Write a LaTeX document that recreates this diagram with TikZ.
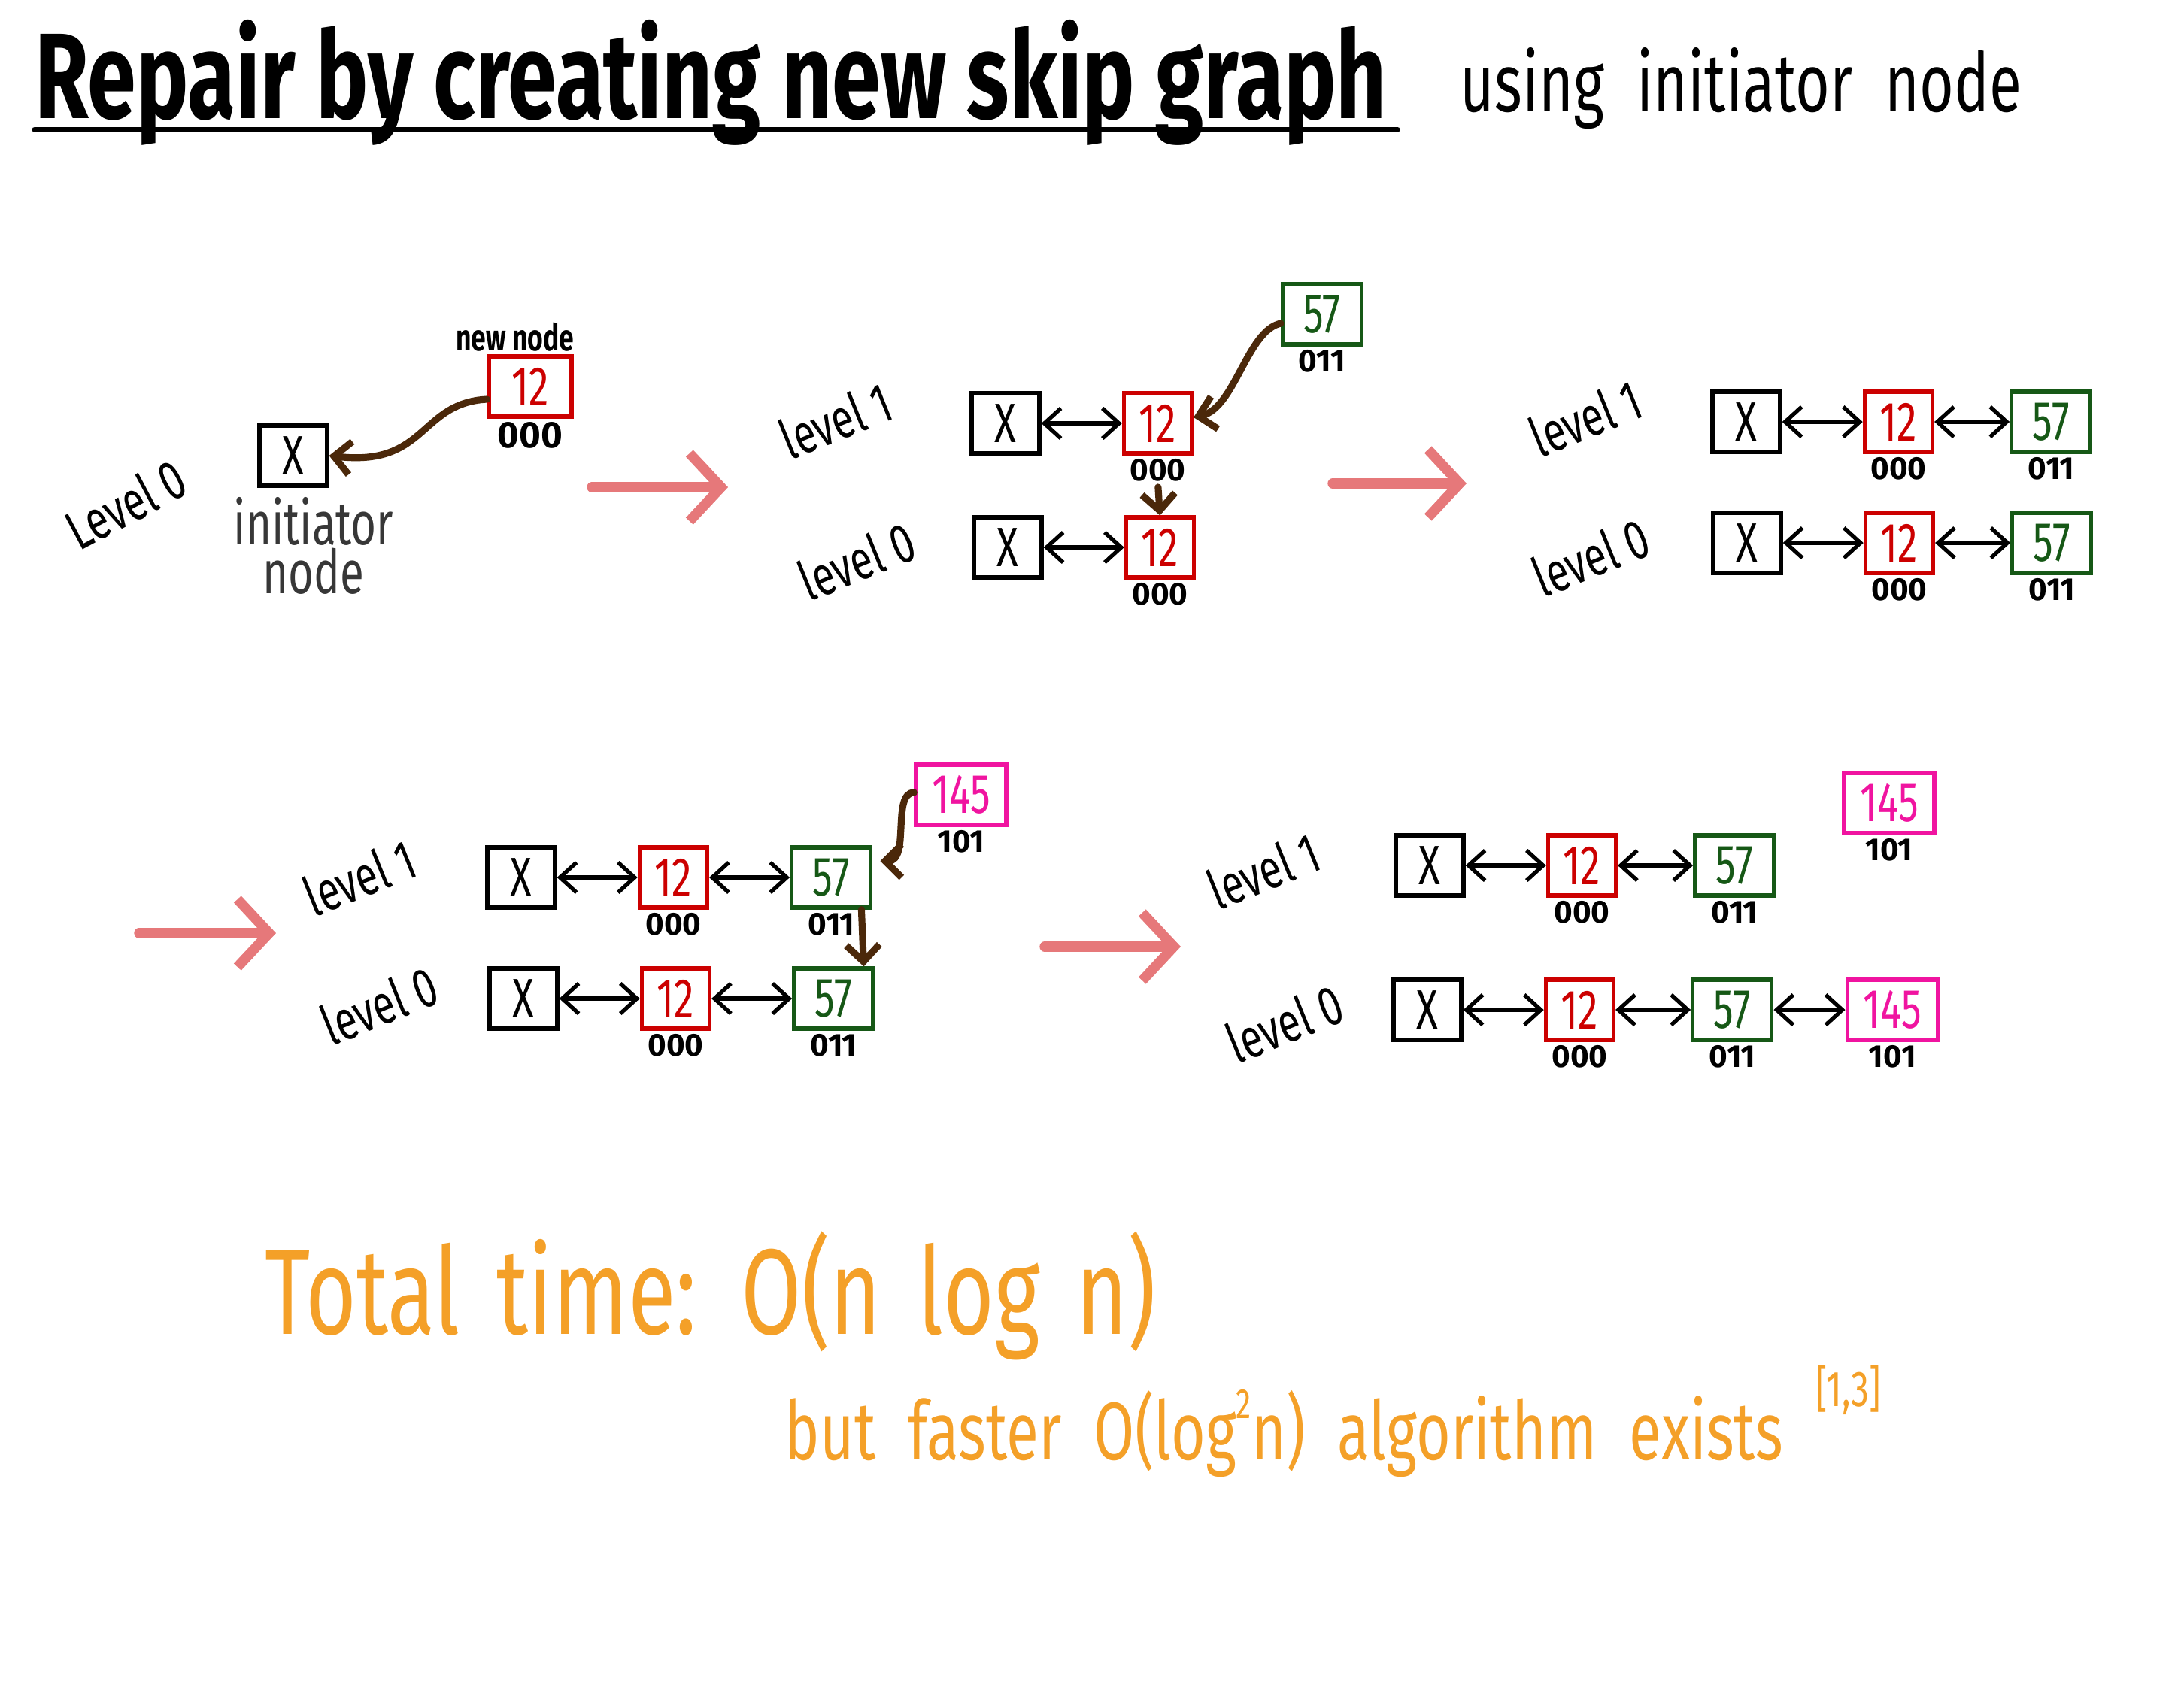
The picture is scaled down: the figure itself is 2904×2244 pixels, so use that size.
\documentclass[tikz,border=0pt]{standalone}
\usepackage{fontspec}
\setmainfont[FakeStretch=0.72]{Fira Sans}
\newfontfamily\bitfont{Fira Sans}
\usetikzlibrary{arrows.meta,positioning}
\definecolor{inkred}{RGB}{204, 0, 0}
\definecolor{inkgreen}{RGB}{22, 88, 22}
\definecolor{inkpink}{RGB}{240, 20, 160}
\definecolor{inkbrown}{RGB}{75, 40, 10}
\definecolor{steparrow}{RGB}{230, 120, 122}
\definecolor{inkorange}{RGB}{244, 160, 40}
\definecolor{inkgray}{RGB}{55, 55, 55}
\newcommand{\wordgap}[1]{\spaceskip=#1\relax}

\begin{document}
\begin{tikzpicture}[
  x=0.01cm, y=-0.01cm,
  >={Straight Barb[length=2.2mm,width=4mm]},
  node distance=1.07cm,
  box/.style={
    draw,
    line width=1.5pt,
    minimum width=0.9cm,
    minimum height=0.8cm,
    inner sep=1pt,
    font=\fontsize{21}{21}\selectfont
  },
  xbox/.style={box, draw=black},
  redbox/.style={box, draw=inkred, text=inkred},
  greenbox/.style={box, draw=inkgreen, text=inkgreen, minimum width=1.05cm},
  pinkbox/.style={box, draw=inkpink, text=inkpink, minimum width=1.2cm},
  bits/.style={below=0.04cm of #1, inner sep=0pt, font=\bitfont\bfseries\fontsize{12}{12}\selectfont},
  lvl/.style={rotate=22, font=\fontsize{21}{21}\selectfont},
  link/.style={<->, line width=1.5pt},
  insarrow/.style={draw=inkbrown, line width=2.6pt, line cap=round, -{Straight Barb[length=2.2mm,width=4.4mm]}},
  stagearrow/.style={draw=steparrow, line width=3.8pt, line cap=round, -{Straight Barb[length=4.2mm,width=9mm]}}
]
  \path[use as bounding box, fill=white] (0,0) rectangle (2904,2244);

  % Title
  \node[anchor=base west, inner sep=0pt, font=\bfseries\fontsize{46}{46}\selectfont] (title) at (46,157) {Repair by creating new skip graph};
  \coordinate (ulleft) at (46,172);
  \coordinate (ulright) at (1858,172);
  \draw[line width=2pt, line cap=round] (ulleft) -- (ulright);
  \node[anchor=base west, inner sep=0pt, font=\fontsize{31}{31}\selectfont] (subtitle) at (1941,148) {\wordgap{0.4em}using initiator node};

  % Stage 1: initiator and new node
  \node[lvl, rotate=6] (s1lvl) at (167,670) {Level 0};
  \node[xbox] (s1x) at (390,606) {X};
  \node[below=0.12cm of s1x, xshift=0.27cm, align=center, text=inkgray, inner sep=0pt, font=\fontsize{23}{17}\selectfont] (s1init) {initiator\\node};
  \node[redbox, minimum width=1.1cm] (s1a) at (705,514) {12};
  \node[bits=s1a, font=\bitfont\bfseries\fontsize{14}{14}\selectfont] (s1ab) {000};
  \node[above=0.03cm of s1a, xshift=-0.2cm, inner sep=0pt, font=\bfseries\fontsize{14}{14}\selectfont] (s1new) {new node};
  \draw[insarrow] ([yshift=-0.17cm]s1a.west) .. controls +(-90,5) and +(130,15) .. (s1x.east);

  \coordinate (t1a) at (787,648);
  \coordinate (t1b) at (968,648);
  \draw[stagearrow] (t1a) -- (t1b);

  % Stage 2: 12 climbs to level 1, 57 joins
  \node[lvl] (s2lvl1) at (1111,559) {level 1};
  \node[lvl] (s2lvl0) at (1139,746) {level 0};
  \node[xbox] (s2x1) at (1337,563) {X};
  \node[redbox, right=of s2x1] (s2a1) {12};
  \node[bits=s2a1] (s2a1b) {000};
  \node[xbox] (s2x0) at (1340,728) {X};
  \node[redbox, right=of s2x0] (s2a0) {12};
  \node[bits=s2a0] (s2a0b) {000};
  \node[greenbox] (s2c) at (1758,418) {57};
  \node[bits=s2c] (s2cb) {011};
  \draw[link] (s2x1) -- (s2a1);
  \draw[link] (s2x0) -- (s2a0);
  \draw[insarrow] ([yshift=-0.12cm]s2c.west) .. controls +(-45,10) and +(55,-12) .. ([yshift=0.08cm]s2a1.east);
  \draw[insarrow, shorten <=2pt] (s2a1b.south) -- (s2a0.north);

  \coordinate (t2a) at (1772,643);
  \coordinate (t2b) at (1950,643);
  \draw[stagearrow] (t2a) -- (t2b);

  % Stage 3: 57 linked on both levels
  \node[lvl] (s3lvl1) at (2108,556) {level 1};
  \node[lvl] (s3lvl0) at (2115,741) {level 0};
  \node[xbox] (s3x1) at (2322,561) {X};
  \node[redbox, right=of s3x1] (s3a1) {12};
  \node[bits=s3a1] (s3a1b) {000};
  \node[greenbox, right=1.0cm of s3a1] (s3c1) {57};
  \node[bits=s3c1] (s3c1b) {011};
  \node[xbox] (s3x0) at (2323,722) {X};
  \node[redbox, right=of s3x0] (s3a0) {12};
  \node[bits=s3a0] (s3a0b) {000};
  \node[greenbox, right=1.0cm of s3a0] (s3c0) {57};
  \node[bits=s3c0] (s3c0b) {011};
  \draw[link] (s3x1) -- (s3a1);
  \draw[link] (s3a1) -- (s3c1);
  \draw[link] (s3x0) -- (s3a0);
  \draw[link] (s3a0) -- (s3c0);

  \coordinate (t3a) at (185,1241);
  \coordinate (t3b) at (367,1241);
  \draw[stagearrow] (t3a) -- (t3b);

  % Stage 4: 145 joins
  \node[lvl] (s4lvl1) at (478,1167) {level 1};
  \node[lvl] (s4lvl0) at (504,1337) {level 0};
  \node[xbox] (s4x1) at (693,1167) {X};
  \node[redbox, right=of s4x1] (s4a1) {12};
  \node[bits=s4a1] (s4a1b) {000};
  \node[greenbox, right=of s4a1] (s4c1) {57};
  \node[bits=s4c1] (s4c1b) {011};
  \node[xbox] (s4x0) at (696,1328) {X};
  \node[redbox, right=of s4x0] (s4a0) {12};
  \node[bits=s4a0] (s4a0b) {000};
  \node[greenbox, right=of s4a0] (s4c0) {57};
  \node[bits=s4c0] (s4c0b) {011};
  \node[pinkbox] (s4d) at (1278,1057) {145};
  \node[bits=s4d] (s4db) {101};
  \draw[link] (s4x1) -- (s4a1);
  \draw[link] (s4a1) -- (s4c1);
  \draw[link] (s4x0) -- (s4a0);
  \draw[link] (s4a0) -- (s4c0);
  \draw[insarrow] ([yshift=0.03cm]s4d.west) .. controls +(-30,0) and +(40,0) .. ([xshift=0.1cm, yshift=0.22cm]s4c1.east);
  \draw[insarrow] ([xshift=-0.15cm]s4c1.south east) -- ([xshift=-0.15cm]s4c0.north east);

  \coordinate (t4a) at (1389,1259);
  \coordinate (t4b) at (1570,1259);
  \draw[stagearrow] (t4a) -- (t4b);

  % Stage 5: final skip graph
  \node[lvl] (s5lvl1) at (1680,1158) {level 1};
  \node[lvl] (s5lvl0) at (1708,1361) {level 0};
  \node[xbox] (s5x1) at (1901,1151) {X};
  \node[redbox, right=of s5x1] (s5a1) {12};
  \node[bits=s5a1] (s5a1b) {000};
  \node[greenbox, right=1.0cm of s5a1] (s5c1) {57};
  \node[bits=s5c1] (s5c1b) {011};
  \node[pinkbox] (s5d1) at (2512,1068) {145};
  \node[bits=s5d1] (s5d1b) {101};
  \node[xbox] (s5x0) at (1898,1343) {X};
  \node[redbox, right=of s5x0] (s5a0) {12};
  \node[bits=s5a0] (s5a0b) {000};
  \node[greenbox, right=1.0cm of s5a0] (s5c0) {57};
  \node[bits=s5c0] (s5c0b) {011};
  \node[pinkbox, right=0.95cm of s5c0] (s5d0) {145};
  \node[bits=s5d0] (s5d0b) {101};
  \draw[link] (s5x1) -- (s5a1);
  \draw[link] (s5a1) -- (s5c1);
  \draw[link] (s5x0) -- (s5a0);
  \draw[link] (s5a0) -- (s5c0);
  \draw[link] (s5c0) -- (s5d0);

  % Cost
  \node[anchor=base west, inner sep=0pt, text=inkorange, font=\fontsize{46}{46}\selectfont] (total) at (352,1774) {\wordgap{0.3em}Total time: O(n log n)};
  \node[anchor=base west, inner sep=0pt, text=inkorange, font=\fontsize{31}{31}\selectfont] (faster) at (1043,1941) {\wordgap{0.4em}but faster O(log\raisebox{.5em}{\fontsize{16}{16}\selectfont 2}n) algorithm exists \raisebox{.65em}{\fontsize{19}{19}\selectfont [1,3]}};

\end{tikzpicture}
\end{document}
